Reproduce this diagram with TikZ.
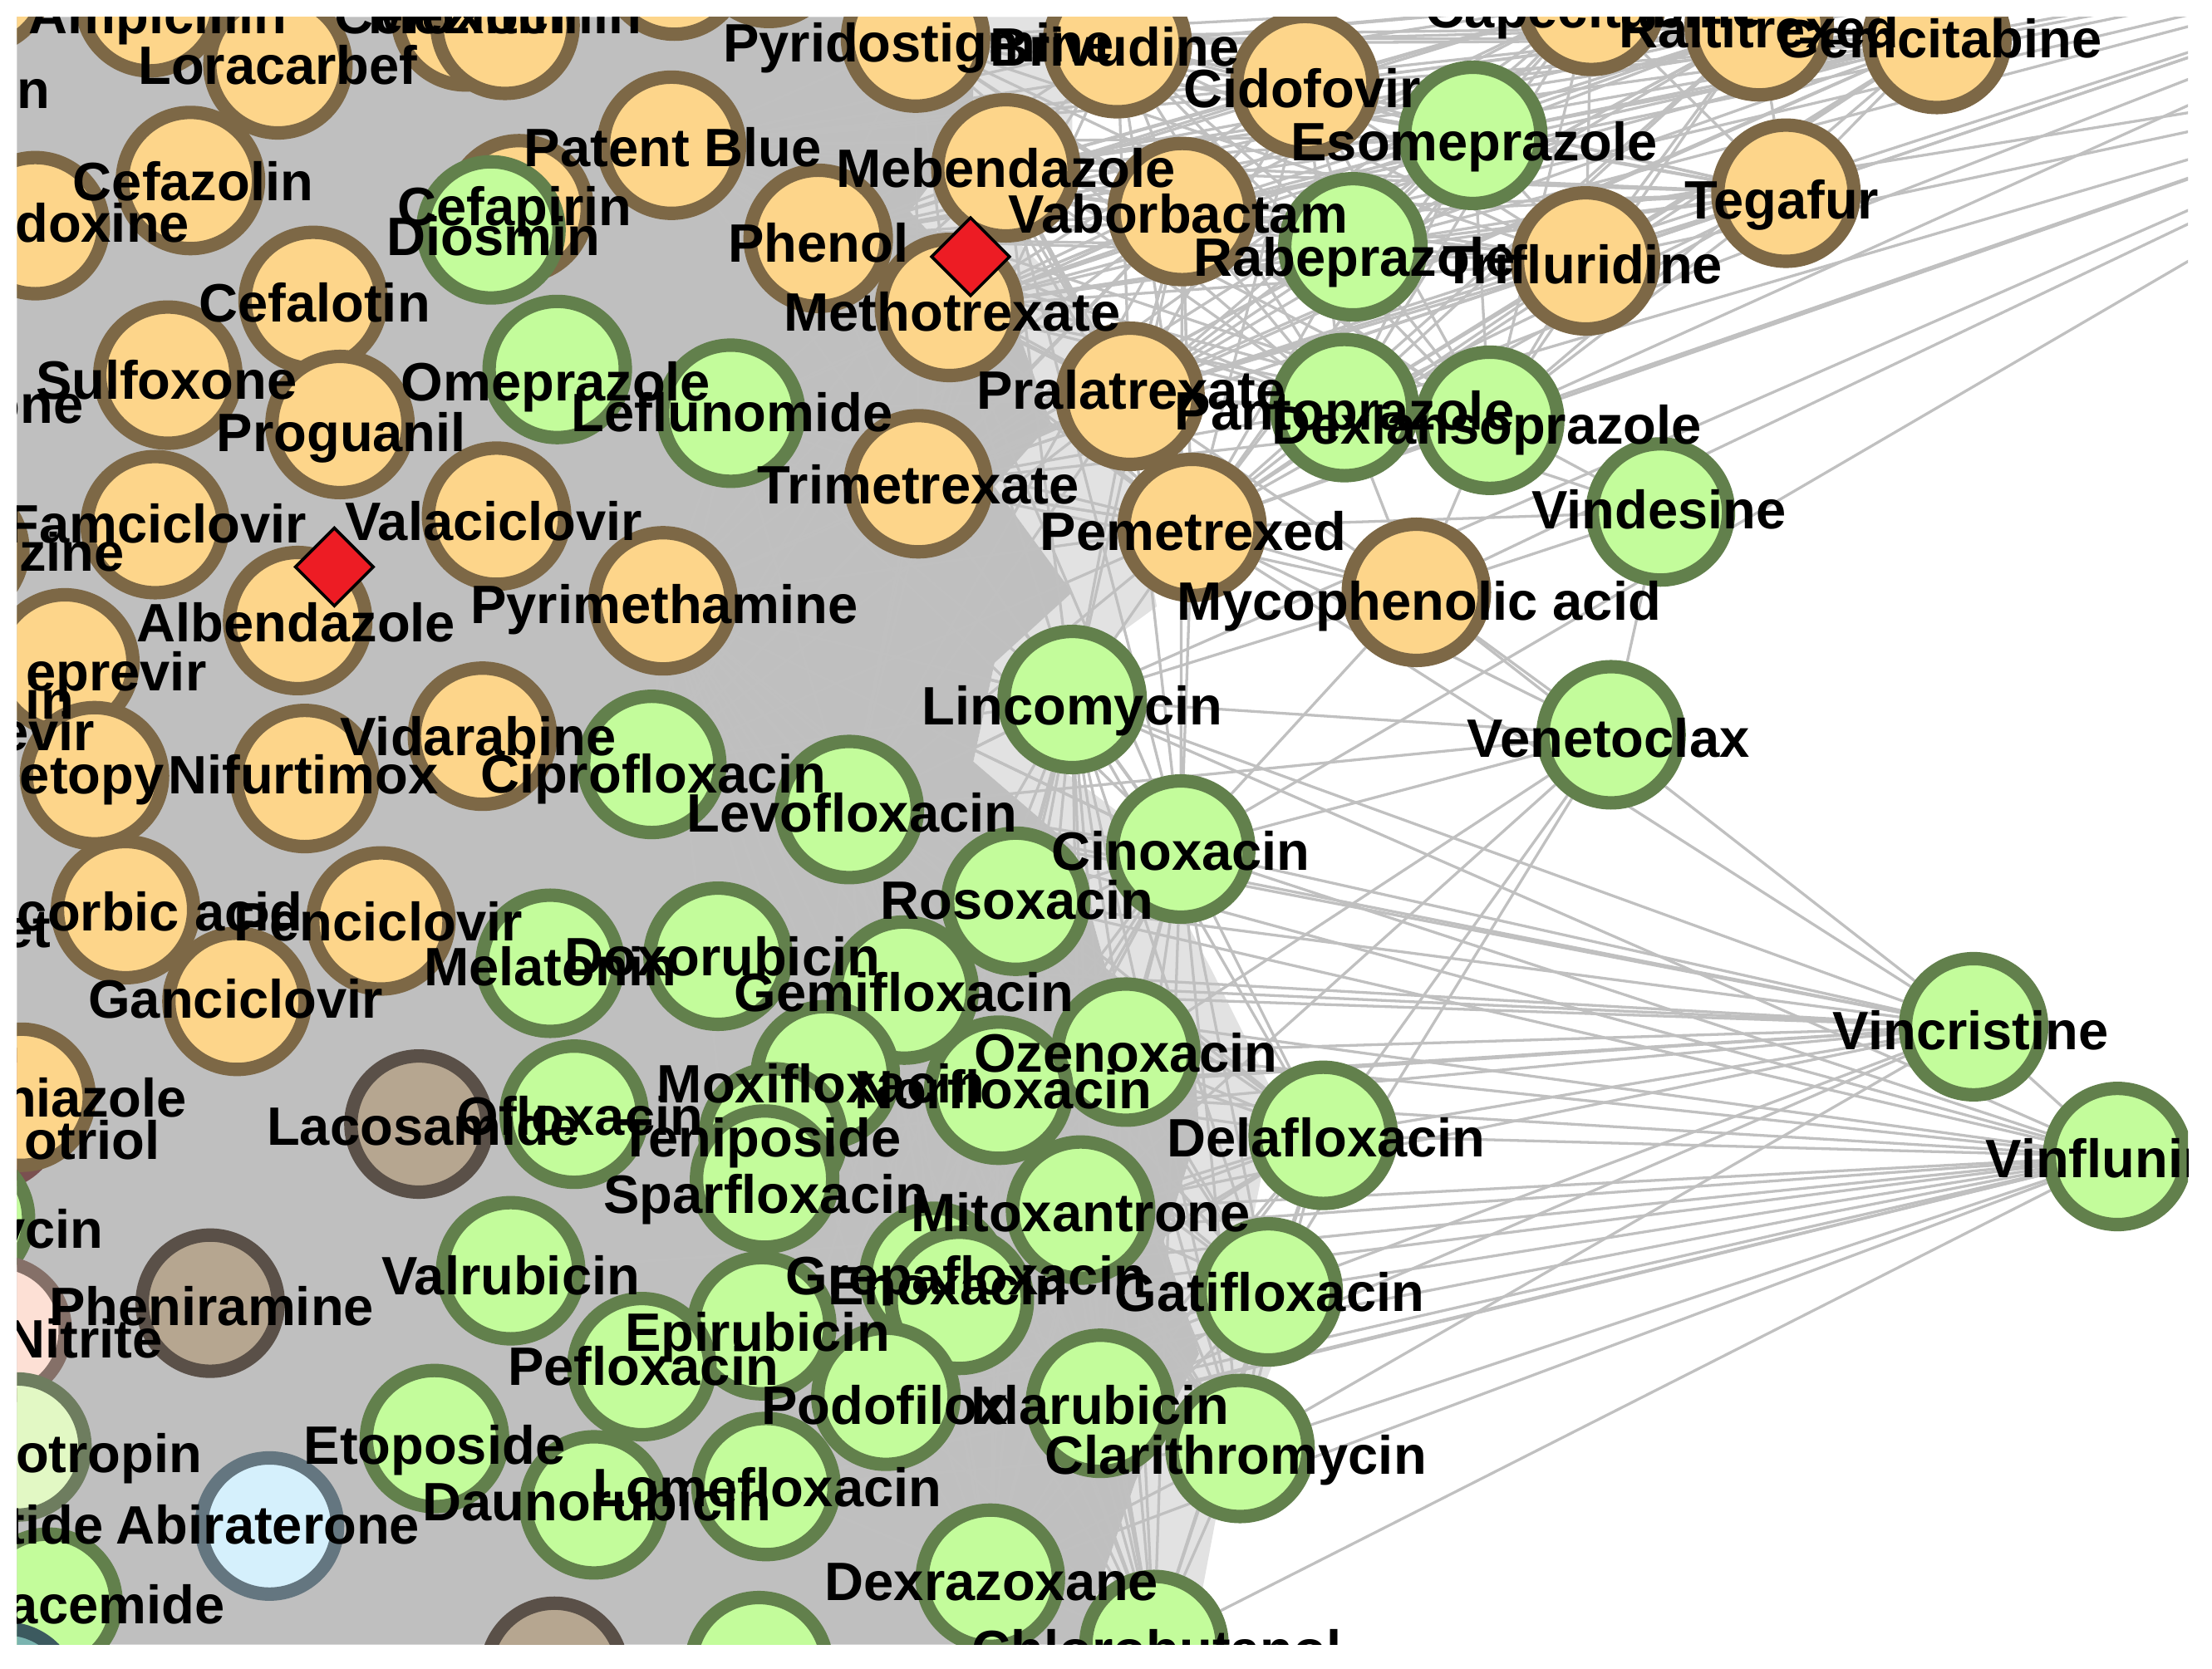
\documentclass[tikz,border=0pt]{standalone}
\usepackage{fontspec}
\setmainfont{Liberation Sans}
\usetikzlibrary{shapes.geometric}
\pgfdeclarelayer{bg}
\pgfdeclarelayer{fg}
\pgfsetlayers{bg,main,fg}
\definecolor{ofill}{HTML}{FDD58A}
\definecolor{odraw}{HTML}{7D6846}
\definecolor{gfill}{HTML}{C3FC9B}
\definecolor{gdraw}{HTML}{62804C}
\definecolor{bfill}{HTML}{B6A690}
\definecolor{bdraw}{HTML}{5A5048}
\definecolor{lbfill}{HTML}{D5F0FC}
\definecolor{lbdraw}{HTML}{647680}
\definecolor{pkfill}{HTML}{FDE0D5}
\definecolor{pkdraw}{HTML}{857068}
\definecolor{lgfill}{HTML}{E2F8C4}
\definecolor{lgdraw}{HTML}{6E7D5F}
\definecolor{dpfill}{HTML}{E1A09B}
\definecolor{dpdraw}{HTML}{7A5050}
\definecolor{tlfill}{HTML}{7AB4B0}
\definecolor{tldraw}{HTML}{3C5A5F}
\definecolor{bgray}{HTML}{BFBFBF}
\definecolor{edgec}{HTML}{C0C0C0}
\definecolor{redc}{HTML}{ED1C24}
\tikzset{
  nd/.style={circle, minimum size=0.965cm, inner sep=0pt, line width=2.7pt},
  sog/.style={nd, fill=ofill, draw=odraw},
  sgn/.style={nd, fill=gfill, draw=gdraw},
  sbn/.style={nd, fill=bfill, draw=bdraw},
  slb/.style={nd, fill=lbfill, draw=lbdraw},
  spk/.style={nd, fill=pkfill, draw=pkdraw},
  slg/.style={nd, fill=lgfill, draw=lgdraw},
  sdp/.style={nd, fill=dpfill, draw=dpdraw},
  stl/.style={nd, fill=tlfill, draw=tldraw},
  lab/.style={anchor=base, inner sep=0pt, font=\fontsize{10.9}{12}\selectfont\bfseries},
  labe/.style={lab, anchor=base east},
  edge/.style={draw=edgec, line width=0.55pt},
  rdia/.style={diamond, aspect=1, fill=redc, draw=black, line width=0.6pt, minimum width=0.56cm, minimum height=0.56cm, inner sep=0pt}
}
\begin{document}
\begin{tikzpicture}[x=0.01cm,y=-0.01cm]
\useasboundingbox (0,0) rectangle (1568,1183);
% ---------------- nodes (main layer) ----------------
\begin{scope}
\clip (12,12) rectangle (1551,1166);
\node[sog] (tlc) at (-15,-14) {};
\node[sog] (amp) at (106,2) {};
\node[sog] (mez1) at (330,12) {};
\node[sog] (mez2) at (358,18) {};
\node[sog] (tpb) at (478,-24) {};
\node[sog] (pyr0) at (545,-33) {};
\node[sog] (lor) at (197,46) {};
\node[sog] (pyd) at (649,27) {};
\node[sog] (bri) at (792,31) {};
\node[sog] (cid) at (925,60) {};
\node[sog] (cap) at (1128,1) {};
\node[sog] (ral) at (1247,19) {};
\node[sog] (gem) at (1373,28) {};
\node[sog] (teg) at (1266,137) {};
\node[sog] (tri) at (1124,185) {};
\node[sog] (vab) at (838,150) {};
\node[sog] (meb) at (713,119) {};
\node[sog] (phe) at (580,169) {};
\node[sog] (mtx) at (673,218) {};
\node[sog] (pat) at (476,103) {};
\node[sog] (cfp) at (368,148) {};
\node[sog] (cfz) at (135,128) {};
\node[sog] (pdx) at (25,160) {};
\node[sog] (cft) at (222,213) {};
\node[sog] (sul) at (119,266) {};
\node[sog] (prg) at (241,301) {};
\node[sog] (prl) at (801,281) {};
\node[sog] (pem) at (845,374) {};
\node[sog] (myc) at (1004,420) {};
\node[sog] (tmx) at (651,343) {};
\node[sog] (val) at (352,366) {};
\node[sog] (pym) at (470,426) {};
\node[sog] (zin) at (-32,390) {};
\node[sog] (fam) at (110,372) {};
\node[sog] (alb) at (211,440) {};
\node[sog] (sim) at (46,470) {};
\node[sog] (vid) at (342,522) {};
\node[sog] (nif) at (216,552) {};
\node[sog] (met) at (67,550) {};
\node[sog] (asc) at (89,645) {};
\node[sog] (pen) at (270,653) {};
\node[sog] (gan) at (168,710) {};
\node[sdp] (cal) at (-8,792) {};
\node[sog] (thz) at (15,778) {};
% green
\node[sgn] (dio) at (348,163) {};
\node[sgn] (eso) at (1044,96) {};
\node[sgn] (rab) at (959,175) {};
\node[sgn] (ome) at (395,262) {};
\node[sgn] (lef) at (518,293) {};
\node[sgn] (pan) at (953,289) {};
\node[sgn] (dex) at (1056,298) {};
\node[sgn] (vds) at (1177,363) {};
\node[sgn] (lin) at (760,496) {};
\node[sgn] (ven) at (1142,521) {};
\node[sgn] (cip) at (462,542) {};
\node[sgn] (lev) at (602,574) {};
\node[sgn] (cin) at (837,602) {};
\node[sgn] (ros) at (720,639) {};
\node[sgn] (mel) at (390,683) {};
\node[sgn] (dox) at (509,678) {};
\node[sgn] (gmf) at (641,702) {};
\node[sgn] (oze) at (798,746) {};
\node[sgn] (mox) at (585,762) {};
\node[sgn] (nor) at (708,773) {};
\node[sgn] (ofl) at (407,790) {};
\node[sgn] (tnp) at (548,806) {};
\node[sgn] (spa) at (542,836) {};
\node[sgn] (del) at (938,805) {};
\node[sgn] (mit) at (766,858) {};
\node[sgn] (gat) at (899,916) {};
\node[sgn] (vlr) at (362,901) {};
\node[sgn] (grp) at (662,905) {};
\node[sgn] (enx) at (680,922) {};
\node[sgn] (epi) at (540,940) {};
\node[sgn] (pef) at (455,969) {};
\node[sgn] (pod) at (628,990) {};
\node[sgn] (ida) at (780,995) {};
\node[sgn] (cla) at (879,1027) {};
\node[sgn] (eto) at (308,1020) {};
\node[sgn] (lom) at (543,1054) {};
\node[sgn] (dau) at (421,1067) {};
\node[sgn] (dxr) at (702,1119) {};
\node[sgn] (chl) at (818,1166) {};
\node[sgn] (gbt) at (538,1181) {};
\node[sgn] (ycn) at (-28,864) {};
\node[sgn] (ace) at (34,1136) {};
\node[sgn] (vcr) at (1399,728) {};
\node[sgn] (vfl) at (1501,820) {};
% other colours
\node[sbn] (lac) at (297,797) {};
\node[sbn] (phn) at (149,924) {};
\node[sbn] (bbt) at (393,1185) {};
\node[slb] (abi) at (191,1082) {};
\node[spk] (nit) at (-2,943) {};
\node[slg] (otr) at (12,1026) {};
\node[stl] (tea) at (4,1203) {};
% red diamonds
\node[rdia] (d1) at (688,182) {};
\node[rdia] (d2) at (237,402) {};
\end{scope}
% off-canvas ends of edges
\coordinate (oc1) at (1850,-60);
\coordinate (oc2) at (1800,40);
% ---------------- edges (background layer) ----------------
\begin{pgfonlayer}{bg}
\fill[white] (0,0) rectangle (1568,1183);
\begin{scope}
\clip (12,12) rectangle (1551,1166);
% dense core of the network
\fill[bgray] (12,12) -- (690,12) -- (690,90) -- (645,150) -- (720,230) -- (745,300)
  -- (705,345) -- (760,420) -- (705,470) -- (690,540) -- (760,600) -- (785,690)
  -- (845,725) -- (850,800) -- (825,880) -- (850,960) -- (805,1050) -- (765,1166)
  -- (12,1166) -- cycle;
% lighter transition band
\fill[bgray, opacity=0.45] (690,12) -- (760,12) -- (760,100) -- (700,150) -- (780,230)
  -- (800,320) -- (820,430) -- (765,470) -- (745,540) -- (805,585) -- (860,690)
  -- (905,780) -- (885,880) -- (905,960) -- (865,1060) -- (845,1166) -- (765,1166)
  -- (805,1050) -- (850,960) -- (825,880) -- (850,800) -- (845,725) -- (785,690)
  -- (760,600) -- (690,540) -- (705,470) -- (760,420) -- (705,345) -- (745,300)
  -- (720,230) -- (645,150) -- (690,90) -- cycle;
\def\gone{pyd,bri,cid,meb,vab,mtx,phe,prl,tmx,pem,rab,eso,pan,dex,tri,pat,teg,gem,ral,cap}
\foreach \a [count=\i] in \gone {
  \foreach \b [count=\j] in \gone {
    \ifnum\j>\i \draw[edge] (\a) -- (\b); \fi
  }
}
\def\gtwo{pym,lin,lev,cin,ros,gmf,oze,nor,del,mit,gat,grp,ida,cla,dxr,chl,pod,lom}
\foreach \a [count=\i] in \gtwo {
  \foreach \b [count=\j] in \gtwo {
    \ifnum\j>\i \draw[edge] (\a) -- (\b); \fi
  }
}
\def\gthree{tmx,pym,lef,prl,pem,lin,lev,cip,mtx,cin,vab,meb}
\foreach \a [count=\i] in \gthree {
  \foreach \b [count=\j] in \gthree {
    \ifnum\j>\i \draw[edge] (\a) -- (\b); \fi
  }
}
\foreach \b in {cin,ros,oze,del,gat,mit,nor,gmf,lev,lin,ida,cla,cip,dox,tnp,pem,myc,ofl,mel}
  \draw[edge] (vcr) -- (\b);
\foreach \b in {cin,oze,del,gat,mit,cla,ida,dxr,chl,pod,lom,epi,grp,nor,gmf,ros,lev,dau,vlr,lin}
  \draw[edge] (vfl) -- (\b);
\draw[edge] (vcr) -- (vfl);
\foreach \b in {lin,cin,oze,del,gat,mit,myc,pem,vds,lev}
  \draw[edge] (ven) -- (\b);
\foreach \b in {myc,dex,pan,pem}
  \draw[edge] (vds) -- (\b);
\foreach \b in {lin,pem,prl,tmx,cin,pan,dex}
  \draw[edge] (myc) -- (\b);
\foreach \b in {gem,ral,cap,tri,rab,eso,teg,cid,bri,meb,vab,mtx,prl,pan,dex}
  \draw[edge] (oc1) -- (\b);
\foreach \b in {tri,rab,pan,dex,pem,myc,lin,cin}
  \draw[edge] (oc2) -- (\b);
\end{scope}
\end{pgfonlayer}
% ---------------- labels (foreground layer) ----------------
\begin{pgfonlayer}{fg}
\begin{scope}
\clip (12,12) rectangle (1551,1166);
\node[lab] (l-amp) at (112,24) {Ampicillin};
\node[lab] (l-cfx) at (319,24) {Cefoxitin};
\node[lab] (l-mez) at (358,24) {Mezlocillin};
\node[labe] (l-in1) at (36,77) {in};
\node[lab] (l-lor) at (197,60) {Loracarbef};
\node[lab] (l-pyd) at (651,44) {Pyridostigmine};
\node[lab] (l-bri) at (790,47) {Brivudine};
\node[lab] (l-cid) at (923,76) {Cidofovir};
\node[lab] (l-cap) at (1130,20) {Capecitabine};
\node[lab] (l-ral) at (1247,34) {Raltitrexed};
\node[lab] (l-gem) at (1375,41) {Gemcitabine};
\node[lab] (l-eso) at (1045,114) {Esomeprazole};
\node[lab] (l-teg) at (1263,155) {Tegafur};
\node[lab] (l-tri) at (1122,201) {Trifluridine};
\node[lab] (l-rab) at (960,196) {Rabeprazole};
\node[lab] (l-vab) at (835,165) {Vaborbactam};
\node[lab] (l-meb) at (713,133) {Mebendazole};
\node[lab] (l-phe) at (580,186) {Phenol};
\node[lab] (l-mtx) at (675,235) {Methotrexate};
\node[lab] (l-pat) at (477,118) {Patent Blue};
\node[lab] (l-cfp) at (365,160) {Cefapirin};
\node[lab] (l-dio) at (350,181) {Diosmin};
\node[lab] (l-cfz) at (137,142) {Cefazolin};
\node[labe] (l-pdx) at (135,172) {doxine};
\node[lab] (l-cft) at (223,228) {Cefalotin};
\node[lab] (l-sul) at (118,283) {Sulfoxone};
\node[labe] (l-one) at (60,300) {one};
\node[lab] (l-prg) at (242,320) {Proguanil};
\node[lab] (l-ome) at (394,284) {Omeprazole};
\node[lab] (l-lef) at (519,306) {Leflunomide};
\node[lab] (l-prl) at (802,290) {Pralatrexate};
\node[lab] (l-pan) at (953,305) {Pantoprazole};
\node[lab] (l-dex) at (1054,315) {Dexlansoprazole};
\node[lab] (l-vds) at (1176,375) {Vindesine};
\node[lab] (l-myc) at (1006,440) {Mycophenolic acid};
\node[lab] (l-pem) at (846,390) {Pemetrexed};
\node[lab] (l-tmx) at (651,357) {Trimetrexate};
\node[lab] (l-val) at (350,383) {Valaciclovir};
\node[lab] (l-pym) at (471,442) {Pyrimethamine};
\node[labe] (l-zin) at (89,405) {zine};
\node[lab] (l-fam) at (111,385) {Famciclovir};
\node[lab] (l-alb) at (210,455) {Albendazole};
\node[labe] (l-epr) at (147,490) {eprevir};
\node[labe] (l-in2) at (53,510) {in};
\node[labe] (l-evi) at (68,532) {evir};
\node[labe] (l-met) at (117,563) {netopy};
\node[lab] (l-vid) at (339,536) {Vidarabine};
\node[lab] (l-nif) at (215,563) {Nifurtimox};
\node[lab] (l-asc) at (89,660) {Ascorbic acid};
\node[labe] (l-et) at (37,672) {et};
\node[lab] (l-pen) at (268,667) {Penciclovir};
\node[lab] (l-gan) at (167,722) {Ganciclovir};
\node[labe] (l-thz) at (133,792) {hiazole};
\node[labe] (l-cal) at (114,822) {otriol};
\node[lab] (l-lac) at (300,812) {Lacosamide};
\node[lab] (l-mel) at (390,699) {Melatonin};
\node[lab] (l-dox) at (512,692) {Doxorubicin};
\node[lab] (l-gmf) at (641,717) {Gemifloxacin};
\node[lab] (l-ros) at (721,652) {Rosoxacin};
\node[lab] (l-lev) at (604,590) {Levofloxacin};
\node[lab] (l-cip) at (463,562) {Ciprofloxacin};
\node[lab] (l-cin) at (837,617) {Cinoxacin};
\node[lab] (l-lin) at (760,514) {Lincomycin};
\node[lab] (l-ven) at (1140,537) {Venetoclax};
\node[lab] (l-oze) at (798,760) {Ozenoxacin};
\node[lab] (l-nor) at (711,786) {Norfloxacin};
\node[lab] (l-mox) at (582,782) {Moxifloxacin};
\node[lab] (l-tnp) at (539,820) {Teniposide};
\node[lab] (l-spa) at (543,860) {Sparfloxacin};
\node[lab] (l-ofl) at (411,805) {Ofloxacin};
\node[lab] (l-del) at (940,820) {Delafloxacin};
\node[lab] (l-mit) at (766,873) {Mitoxantrone};
\node[lab] (l-gat) at (900,930) {Gatifloxacin};
\node[lab] (l-grp) at (685,918) {Grepafloxacin};
\node[lab] (l-enx) at (672,925) {Enoxacin};
\node[lab] (l-epi) at (537,958) {Epirubicin};
\node[lab] (l-vlr) at (362,918) {Valrubicin};
\node[lab] (l-pef) at (456,982) {Pefloxacin};
\node[lab] (l-pod) at (627,1010) {Podofilox};
\node[lab] (l-ida) at (780,1010) {Idarubicin};
\node[lab] (l-cla) at (876,1045) {Clarithromycin};
\node[lab] (l-eto) at (308,1038) {Etoposide};
\node[lab] (l-dau) at (423,1078) {Daunorubicin};
\node[lab] (l-lom) at (544,1068) {Lomefloxacin};
\node[lab] (l-abi) at (190,1095) {Abiraterone};
\node[lab] (l-phn) at (150,940) {Pheniramine};
\node[labe] (l-nit) at (116,963) {Nitrite};
\node[labe] (l-ycn) at (74,885) {ycin};
\node[labe] (l-otr) at (144,1044) {otropin};
\node[labe] (l-tid) at (74,1095) {tide};
\node[labe] (l-ace) at (160,1151) {acemide};
\node[lab] (l-dxr) at (703,1135) {Dexrazoxane};
\node[lab] (l-chl) at (820,1183) {Chlorobutanol};
\node[lab] (l-vcr) at (1397,744) {Vincristine};
\node[lab] (l-vfl) at (1500,835) {Vinflunine};
\end{scope}
\end{pgfonlayer}
\end{tikzpicture}
\end{document}
